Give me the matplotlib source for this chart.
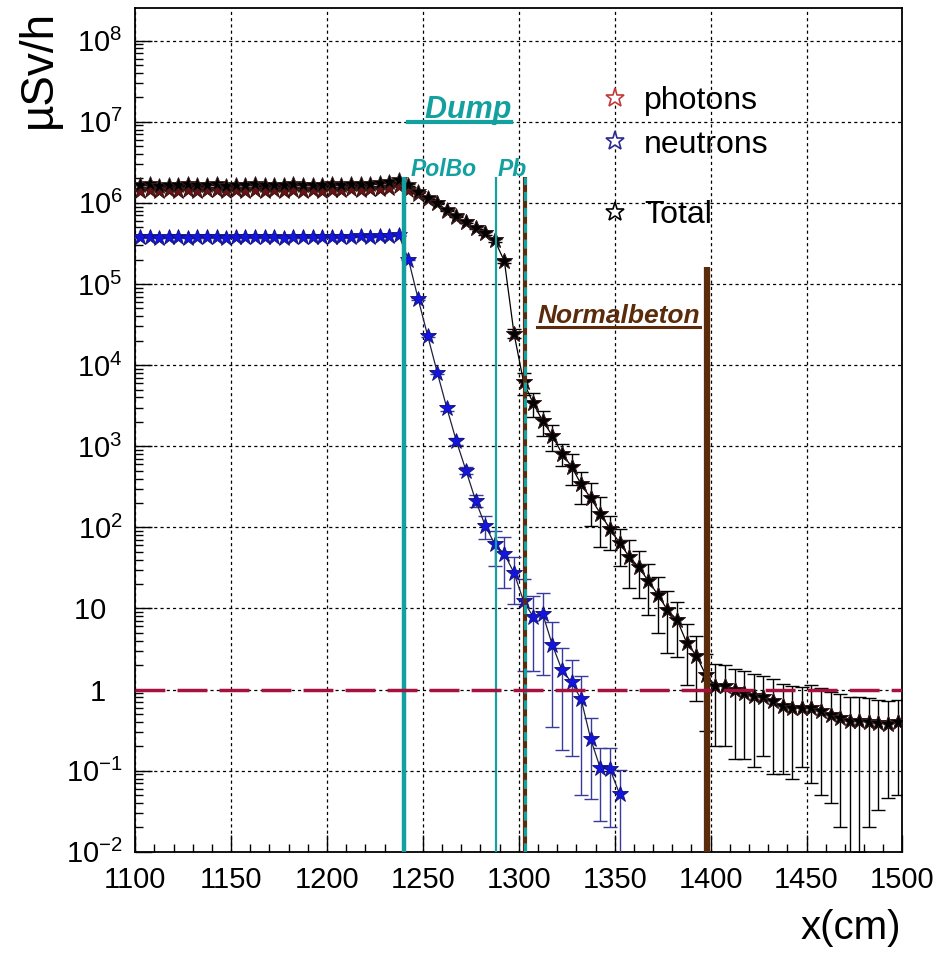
import numpy as np
import matplotlib
matplotlib.use('Agg')
import matplotlib.pyplot as plt
from matplotlib.lines import Line2D
from matplotlib.ticker import FixedLocator, MultipleLocator, FuncFormatter

plt.rcParams['font.family'] = ['Liberation Sans', 'DejaVu Sans']
plt.rcParams['mathtext.fontset'] = 'custom'
plt.rcParams['mathtext.rm'] = 'Liberation Sans'
plt.rcParams['mathtext.default'] = 'regular'

# ========== Datos ==========
# centros de los bins (5 cm)
x_bins = np.arange(1102.5, 1500, 5.0)

total = [1.66e6, 1.70e6, 1.63e6, 1.68e6, 1.65e6, 1.71e6, 1.64e6, 1.67e6, 1.69e6, 1.63e6,
         1.68e6, 1.66e6, 1.70e6, 1.65e6, 1.67e6, 1.64e6, 1.69e6, 1.66e6, 1.68e6, 1.65e6,
         1.70e6, 1.67e6, 1.71e6, 1.69e6, 1.72e6, 1.76e6, 1.80e6, 1.92e6,
         1.66e6, 1.35e6, 1.15e6, 1.0e6, 8.1e5, 6.8e5, 5.75e5, 4.9e5, 4.2e5, 3.45e5,
         1.9e5, 2.45e4, 6170, 3390, 2040, 1350, 813, 562, 339, 229,
         148, 95.5, 64.6, 43.6, 32.4, 21.9, 14.8, 9.55, 7.24, 3.8,
         2.63, 1.51, 1.12, 1.10, 0.98, 0.91, 0.83, 0.81, 0.72, 0.63,
         0.60, 0.60, 0.60, 0.55, 0.49, 0.45, 0.41, 0.41, 0.40, 0.39, 0.38, 0.40]

total_err = [2.1e4, 2.0e4, 1.9e4, 2.0e4, 2.1e4, 2.0e4, 1.9e4, 2.0e4, 2.1e4, 2.0e4,
             1.9e4, 2.0e4, 2.1e4, 2.0e4, 1.9e4, 2.0e4, 2.1e4, 2.0e4, 1.9e4, 2.0e4,
             2.1e4, 2.0e4, 1.9e4, 2.0e4, 2.1e4, 2.2e4, 2.3e4, 2.5e4,
             3e4, 2.5e4, 2e4, 2e4, 1.8e4, 1.6e4, 1.5e4, 1.4e4, 1.3e4, 1.2e4, 9e3, 3e3,
             1900, 1080, 710, 470, 250, 232, 145, 125, 90, 43,
             31, 25.5, 19, 13.6, 9.8, 6.7, 4.7, 2.66, 1.9, 1.2,
             0.92, 0.90, 0.84, 0.77, 0.72, 0.66, 0.63, 0.54, 0.52, 0.49,
             0.53, 0.50, 0.45, 0.43, 0.405, 0.40, 0.38, 0.357, 0.334, 0.35]

photons = [1.42e6, 1.45e6, 1.40e6, 1.44e6, 1.41e6, 1.46e6, 1.40e6, 1.43e6, 1.45e6, 1.39e6,
           1.44e6, 1.42e6, 1.46e6, 1.41e6, 1.43e6, 1.40e6, 1.45e6, 1.42e6, 1.44e6, 1.41e6,
           1.46e6, 1.43e6, 1.47e6, 1.45e6, 1.47e6, 1.50e6, 1.53e6, 1.62e6,
           1.46e6, 1.28e6, 1.12e6, 9.9e5, 8.05e5, 6.78e5, 5.74e5, 4.9e5, 4.2e5, 3.45e5,
           1.9e5, 2.45e4, 6150, 3380, 2030, 1345, 811, 561, 338, 229,
           148, 95.4, 64.5, 43.6, 32.4, 21.9, 14.8, 9.55, 7.24, 3.8,
           2.63, 1.51, 1.12, 1.10, 0.98, 0.91, 0.83, 0.81, 0.72, 0.63,
           0.60, 0.60, 0.60, 0.55, 0.49, 0.45, 0.41, 0.41, 0.40, 0.39, 0.38, 0.40]

neutrons = [3.75e5, 3.80e5, 3.72e5, 3.78e5, 3.82e5, 3.74e5, 3.79e5, 3.76e5, 3.81e5, 3.73e5,
            3.78e5, 3.80e5, 3.75e5, 3.77e5, 3.82e5, 3.74e5, 3.79e5, 3.76e5, 3.80e5, 3.78e5,
            3.83e5, 3.77e5, 3.81e5, 3.85e5, 3.82e5, 3.88e5, 3.92e5, 3.98e5,
            2.0e5, 6.6e4, 2.3e4, 8.1e3, 2950, 1150, 500, 214, 105, 62,
            47, 27.5, 12.3, 7.9, 8.5, 3.55, 1.74, 1.23, 0.76, 0.245,
            0.107, 0.105, 0.052]

neutrons_err = [5e3, 5e3, 5e3, 5e3, 5e3, 5e3, 5e3, 5e3, 5e3, 5e3,
                5e3, 5e3, 5e3, 5e3, 5e3, 5e3, 5e3, 5e3, 5e3, 5e3,
                5e3, 5e3, 5e3, 5e3, 5e3, 5e3, 5e3, 5e3,
                5e3, 2e3, 1e3, 400, 200, 100, 50, 35, 33, 29,
                29, 16, 10.6, 6.2, 7.0, 3.2, 1.56, 1.08, 0.71, 0.2,
                0.083, 0.085, 0.05]

# Capas del blindaje (cm)
polbo_start = 1240
pb_start = 1288
beton_start = 1303
beton_end = 1398
dump_top = 2.1e6
beton_top = 1.6e5
limit = 1.0

teal = '#13a0a0'
brown = '#5b2c0b'
crimson = '#a5123f'

# ========== Figura ==========
fig = plt.figure(figsize=(9.45, 9.55), dpi=100)
ax = fig.add_axes([0.143, 0.108, 0.812, 0.884])

n_neu = len(neutrons)

# barras de error
ax.errorbar(x_bins, total, yerr=total_err, fmt='none', ecolor='black', elinewidth=1.0,
            capsize=5, capthick=1.0, zorder=3)
ax.errorbar(x_bins[:n_neu], neutrons, yerr=neutrons_err, fmt='none', ecolor='#3a3a9c',
            elinewidth=1.0, capsize=5, capthick=1.0, zorder=3)

# lineas
ax.plot(x_bins, total, color='black', lw=0.9, zorder=4)
ax.plot(x_bins[:n_neu], neutrons, color='#202040', lw=0.9, zorder=4)

# marcadores
ax.plot(x_bins, photons, ls='none', marker='*', ms=12, mfc='#6a1212', mec='#2a0808',
        mew=0.6, zorder=5)
ax.plot(x_bins[:n_neu], neutrons, ls='none', marker='*', ms=12, mfc='#1414e0',
        mec='#101070', mew=0.6, zorder=6)
ax.plot(x_bins, total, ls='none', marker='*', ms=12, mfc='black', mec='#3a2020',
        mew=0.6, zorder=6)

ax.set_yscale('log')
ax.set_xlim(1100, 1500)
ax.set_ylim(1e-2, 2.55e8)

# limites de capas
ax.vlines(polbo_start, 1e-2, dump_top, color=teal, lw=3.2, zorder=8)
ax.vlines(pb_start, 1e-2, dump_top, color=teal, lw=1.6, zorder=8)
ax.vlines(beton_start, 1e-2, dump_top, color=brown, lw=3.0, zorder=8)
ax.plot([beton_start, beton_start], [1e-2, dump_top], color=teal, lw=2.2,
        dashes=(3.0, 2.2), zorder=9)
ax.vlines(beton_end, 1e-2, beton_top, color=brown, lw=4.5, zorder=8)

# limite 1 uSv/h
ax.axhline(limit, color=crimson, lw=2.5, dashes=(8.6, 3.5), zorder=9)

# ---------- Ejes ----------
ax.xaxis.set_major_locator(MultipleLocator(50))
ax.xaxis.set_minor_locator(MultipleLocator(10))
ax.yaxis.set_major_locator(FixedLocator([10.0 ** k for k in range(-2, 9)]))
ax.yaxis.set_minor_locator(FixedLocator([m * 10.0 ** k for k in range(-2, 8) for m in range(2, 10)]))


def y_fmt(v, pos):
    n = int(round(np.log10(v)))
    if n == 0:
        return '1  '
    if n == 1:
        return '10  '
    return r'$10^{%d}$' % n


ax.yaxis.set_major_formatter(FuncFormatter(y_fmt))
ax.tick_params(which='both', direction='in', top=False, right=False, labelsize=21)
ax.tick_params(which='major', length=12, width=1.0)
ax.tick_params(which='minor', length=6, width=1.0)
ax.tick_params(axis='x', which='major', pad=10)
ax.tick_params(axis='y', which='major', pad=9)

ax.grid(True, which='major', color='black', lw=0.9, linestyle=(0, (2.5, 2.5)))
ax.set_axisbelow(True)
for s in ax.spines.values():
    s.set_linewidth(1.3)

fig.text(0.041, 0.99, 'µSv/h', rotation=90, ha='center', va='top', fontsize=33)
fig.text(0.953, 0.028, 'x(cm)', ha='right', va='center', fontsize=29)

# ---------- Leyenda ----------
h_ph = Line2D([], [], ls='none', marker='*', ms=14, mfc='white', mec='#c03a3a', mew=1.2)
h_ne = Line2D([], [], ls='none', marker='*', ms=14, mfc='white', mec='#2a2a90', mew=1.2)
h_to = Line2D([], [], ls='none', marker='*', ms=14, mfc='white', mec='black', mew=1.2)
leg1 = ax.legend([h_ph, h_ne], ['photons', 'neutrons'], loc='upper left',
                 bbox_to_anchor=(0.604, 0.907), frameon=False, fontsize=23,
                 handlelength=1.0, handletextpad=0.42, labelspacing=0.42,
                 borderpad=0, borderaxespad=0)
ax.add_artist(leg1)
ax.legend([h_to], ['Total'], loc='upper left', bbox_to_anchor=(0.604, 0.772),
          frameon=False, fontsize=23, handlelength=1.0, handletextpad=0.42,
          borderpad=0, borderaxespad=0)

# ---------- Etiquetas de capas ----------
t_dump = ax.text(1242, 10 ** 7.05, '  Dump', color=teal, fontsize=22, fontweight='bold',
                 fontstyle='italic', va='baseline', zorder=10)
ax.text(1243.4, 10 ** 6.33, 'PolBo', color=teal, fontsize=16.5, fontweight='bold',
        fontstyle='italic', va='baseline', zorder=10)
ax.text(1288.7, 10 ** 6.33, 'Pb', color=teal, fontsize=16.5, fontweight='bold',
        fontstyle='italic', va='baseline', zorder=10)
t_beton = ax.text(1309.6, 10 ** 4.52, 'Normalbeton', color=brown, fontsize=19,
                  fontweight='bold', fontstyle='italic', va='baseline', zorder=10)

# subrayado
fig.canvas.draw()
inv = fig.transFigure.inverted()
for t, col, lw in [(t_dump, teal, 3.0), (t_beton, brown, 2.2)]:
    bb = t.get_window_extent()
    bx, by = ax.transData.transform(t.get_position())
    p0 = inv.transform((bb.x0, by - 4))
    p1 = inv.transform((bb.x1, by - 4))
    fig.add_artist(Line2D([p0[0], p1[0]], [p0[1], p1[1]], color=col, lw=lw))

plt.savefig('out.png', dpi=100)
